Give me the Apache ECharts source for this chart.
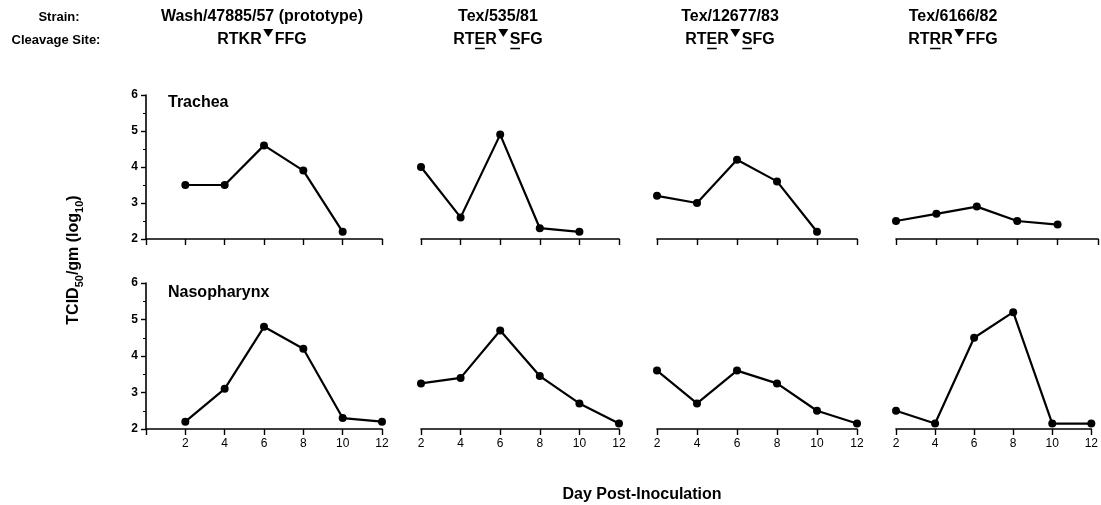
<!DOCTYPE html>
<html><head><meta charset="utf-8">
<script src="https://cdn.jsdelivr.net/npm/echarts@6/dist/echarts.min.js"></script>
<style>html,body{margin:0;padding:0;background:#fff}#c{width:1101px;height:505px}</style>
</head><body><div id="c"></div>
<script>
// ---------- data ----------
const days = [2, 4, 6, 8, 10, 12];
const strains = ['Wash/47885/57 (prototype)', 'Tex/535/81', 'Tex/12677/83', 'Tex/6166/82'];
// cleavage site segments: [text, underlined]; '▼' marks the cleavage point
const cleavageWash = [['RTKR', false], ['▼'], ['FFG', false]];
const cleavageTex535 = [['RT', false], ['E', true], ['R', false], ['▼'], ['S', true], ['FG', false]];
const cleavageTex12677 = [['RT', false], ['E', true], ['R', false], ['▼'], ['S', true], ['FG', false]];
const cleavageTex6166 = [['RT', false], ['R', true], ['R', false], ['▼'], ['FFG', false]];
const tissues = ['Trachea', 'Nasopharynx'];
// log10 TCID50/gm by day (null = not sampled)
const tracheaWash = [3.5, 3.5, 4.6, 3.9, 2.2, null];
const tracheaTex535 = [4.0, 2.6, 4.9, 2.3, 2.2, null];
const tracheaTex12677 = [3.2, 3.0, 4.2, 3.6, 2.2, null];
const tracheaTex6166 = [2.5, 2.7, 2.9, 2.5, 2.4, null];
const nasoWash = [2.2, 3.1, 4.8, 4.2, 2.3, 2.2];
const nasoTex535 = [3.25, 3.4, 4.7, 3.45, 2.7, 2.15];
const nasoTex12677 = [3.6, 2.7, 3.6, 3.25, 2.5, 2.15];
const nasoTex6166 = [2.5, 2.15, 4.5, 5.2, 2.15, 2.15];
const yTicks = [2, 3, 4, 5, 6];
const yTitle = ['TCID', '50', '/gm (log', '10', ')'];
const xTitle = 'Day Post-Inoculation';

// ---------- layout ----------
const FONT = '"Liberation Sans", Arial, Helvetica, sans-serif';
const cleavages = [cleavageWash, cleavageTex535, cleavageTex12677, cleavageTex6166];
const rows = [[tracheaWash, tracheaTex535, tracheaTex12677, tracheaTex6166],
              [nasoWash, nasoTex535, nasoTex12677, nasoTex6166]];
const colLeft = [146, 421, 657, 896];
const colRight = [382, 619, 857, 1098];
const colMin = [0, 2, 2, 2];
const rowTop = [95, 283];
const rowBottom = [239, 429];
const headCenter = [262, 498, 730, 953];

const grids = [], xAxes = [], yAxes = [], series = [];
for (let r = 0; r < 2; r++) {
  for (let c = 0; c < 4; c++) {
    const idx = grids.length;
    grids.push({left: colLeft[c], top: rowTop[r], width: colRight[c] - colLeft[c], height: rowBottom[r] - rowTop[r]});
    xAxes.push({
      type: 'value', gridIndex: idx, min: colMin[c], max: 12, interval: 2,
      axisLine: {show: true, lineStyle: {color: '#000', width: 1.6}},
      axisTick: {show: true, length: 6, lineStyle: {color: '#000', width: 1.4}},
      axisLabel: {show: r === 1, color: '#000', fontSize: 12, fontFamily: FONT, margin: 9,
        formatter: v => (v === 0 ? '' : String(v))},
      splitLine: {show: false}
    });
    yAxes.push({
      type: 'value', gridIndex: idx, min: yTicks[0], max: yTicks[yTicks.length - 1], interval: 1,
      show: c === 0,
      axisLine: {show: true, lineStyle: {color: '#000', width: 1.6}},
      axisTick: {show: true, length: 5, lineStyle: {color: '#000', width: 1.4}},
      minorTick: {show: true, splitNumber: 2, length: 3, lineStyle: {color: '#000', width: 1}},
      axisLabel: {color: '#000', fontSize: 12, fontWeight: 'bold', fontFamily: FONT, margin: 8},
      splitLine: {show: false}
    });
    const vals = rows[r][c];
    series.push({
      type: 'line', xAxisIndex: idx, yAxisIndex: idx,
      data: days.map((d, i) => [d, vals[i]]).filter(p => p[1] !== null),
      symbol: 'circle', symbolSize: 8, clip: false,
      itemStyle: {color: '#000'},
      lineStyle: {color: '#000', width: 2.2},
      emphasis: {disabled: true}
    });
  }
}

// ---------- text graphics ----------
const graphics = [];
const bold13 = 'bold 13px ' + FONT;
const bold16 = 'bold 16px ' + FONT;
graphics.push({type: 'text', x: 59, y: 17, style: {text: 'Strain:', font: bold13, fill: '#000', align: 'center', verticalAlign: 'middle'}});
graphics.push({type: 'text', x: 56, y: 40, style: {text: 'Cleavage Site:', font: bold13, fill: '#000', align: 'center', verticalAlign: 'middle'}});

const mctx = document.createElement('canvas').getContext('2d');
mctx.font = bold16;
const TRI_W = 10, TRI_GAP = 1.5;
for (let c = 0; c < 4; c++) {
  graphics.push({type: 'text', x: headCenter[c], y: 17, style: {text: strains[c], font: bold16, fill: '#000', align: 'center', verticalAlign: 'middle'}});
  const segs = cleavages[c];
  let total = 0;
  segs.forEach(s => { total += s[0] === '▼' ? TRI_W + 2 * TRI_GAP : mctx.measureText(s[0]).width; });
  let x = headCenter[c] - total / 2;
  const yMid = 40;
  segs.forEach(s => {
    if (s[0] === '▼') {
      const x0 = x + TRI_GAP;
      graphics.push({type: 'polygon', shape: {points: [[x0, yMid - 11], [x0 + TRI_W, yMid - 11], [x0 + TRI_W / 2, yMid - 3]]}, style: {fill: '#000'}});
      x += TRI_W + 2 * TRI_GAP;
    } else {
      const w = mctx.measureText(s[0]).width;
      graphics.push({type: 'text', x: x, y: yMid, style: {text: s[0], font: bold16, fill: '#000', align: 'left', verticalAlign: 'middle'}});
      if (s[1]) {
        graphics.push({type: 'line', shape: {x1: x + 0.5, y1: yMid + 8.5, x2: x + w - 0.5, y2: yMid + 8.5}, style: {stroke: '#000', lineWidth: 1.5}});
      }
      x += w;
    }
  });
}
graphics.push({type: 'text', x: 168, y: 103, style: {text: tissues[0], font: bold16, fill: '#000', align: 'left', verticalAlign: 'middle'}});
graphics.push({type: 'text', x: 168, y: 293, style: {text: tissues[1], font: bold16, fill: '#000', align: 'left', verticalAlign: 'middle'}});
graphics.push({type: 'text', x: 642, y: 495, style: {text: xTitle, font: 'bold 16px ' + FONT, fill: '#000', align: 'center', verticalAlign: 'middle'}});
graphics.push({type: 'text', x: 74, y: 260, rotation: Math.PI / 2, style: {
  text: '{a|' + yTitle[0] + '}{s|' + yTitle[1] + '}{a|' + yTitle[2] + '}{s|' + yTitle[3] + '}{a|' + yTitle[4] + '}',
  align: 'center', verticalAlign: 'middle', fill: '#000',
  rich: {
    a: {fontSize: 16, fontWeight: 'bold', fontFamily: FONT, lineHeight: 22, fill: '#000', color: '#000'},
    s: {fontSize: 11, fontWeight: 'bold', fontFamily: FONT, verticalAlign: 'bottom', fill: '#000', color: '#000'}
  }
}});

const chart = echarts.init(document.getElementById('c'), null, {renderer: 'canvas'});
chart.setOption({
  animation: false,
  backgroundColor: '#fff',
  grid: grids, xAxis: xAxes, yAxis: yAxes, series: series,
  graphic: graphics
});
</script></body></html>
